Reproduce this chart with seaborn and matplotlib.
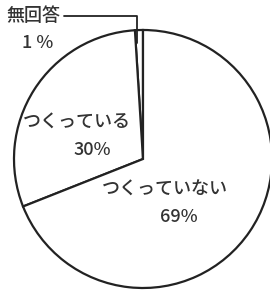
import matplotlib
matplotlib.use("Agg")
import matplotlib.pyplot as plt
import seaborn as sns

# 作っているか (%)
labels = ["無回答", "つくっている", "つくっていない"]
values = [1, 30, 69]

sns.set_theme(style="white")
plt.rcParams['font.family'] = ['Noto Sans CJK JP', 'DejaVu Sans']

fig = plt.figure(figsize=(2.7, 2.93), dpi=100)
ax = fig.add_axes([0, 0, 1, 1])

wedges, _ = ax.pie(values, startangle=90, counterclock=True,
                   colors=["white"] * 3,
                   wedgeprops=dict(edgecolor="#222222", linewidth=1.6))

txt = dict(color="#333333", fontsize=13, fontweight="medium",
           ha="center", va="center")
ax.text(-0.51, 0.29, "つくっている", **txt)
ax.text(-0.39, 0.07, "30%", **txt)
ax.text(0.17, -0.24, "つくっていない", **txt)
ax.text(0.28, -0.45, "69%", **txt)

ax.annotate("無回答", xy=(-0.05, 0.90), xytext=(-0.85, 1.11),
            arrowprops=dict(arrowstyle="-", color="#222222", lw=1.3,
                            shrinkA=0, shrinkB=0,
                            connectionstyle="angle,angleA=0,angleB=90,rad=0"),
            **txt)
ax.text(-0.82, 0.90, "1 %", **txt)

ax.set_aspect("auto")
ax.set_xlim(-143 / 129, 127 / 129)
ax.set_ylim(-134 / 129, 159 / 129)
ax.axis("off")

fig.savefig("out.png", dpi=100, facecolor="white")
